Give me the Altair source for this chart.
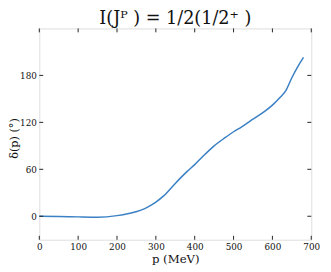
import altair as alt
import pandas as pd

p_mev = [0, 50, 100, 150, 200, 230, 260, 280, 300, 320, 350, 380, 400, 420, 450,
         480, 500, 520, 550, 580, 600, 620, 635, 650, 665, 680]
delta_deg = [0, -0.2, -0.8, -1.2, 0.8, 3.5, 7.5, 12, 18, 26, 42, 57, 66, 76, 90,
             101, 108, 114, 124, 134, 142, 152, 161, 177, 191, 203]
x_ticks = [0, 100, 200, 300, 400, 500, 600, 700]
y_ticks = [0, 60, 120, 180]

W, H = 278, 216
FONT = "DejaVu Serif"

df = pd.DataFrame({"p": p_mev, "d": delta_deg})
xt = pd.DataFrame({"v": x_ticks})
yt = pd.DataFrame({"v": y_ticks})

xs = alt.Scale(domain=[0, 700], nice=False)
ys = alt.Scale(domain=[-30, 240], nice=False)

x_axis = alt.Axis(values=x_ticks, ticks=False, domain=False, grid=False,
                  labelFlush=False, labelOverlap=False,
                  labelFont=FONT, labelFontSize=9, labelColor="#111",
                  labelPadding=3, titleFont=FONT, titleFontSize=12,
                  titleFontWeight="normal", titleColor="#111",
                  titleY=14, titleBaseline="top")
y_axis = alt.Axis(values=y_ticks, ticks=False, domain=False, grid=False,
                  labelOverlap=False,
                  labelFont=FONT, labelFontSize=9, labelColor="#111",
                  labelPadding=3, titleFont=FONT, titleFontSize=11.5,
                  titleFontWeight="normal", titleColor="#111",
                  titleX=-20, titleY=H / 2 + 4, titleBaseline="bottom",
                  titleAngle=270)
XT = "p (MeV)"
YT = "δ(p) (°)"

line = alt.Chart(df).mark_line(color="#3a80c4", strokeWidth=1.5,
                               interpolate="monotone").encode(
    x=alt.X("p:Q", scale=xs, title=XT, axis=x_axis),
    y=alt.Y("d:Q", scale=ys, title=YT, axis=y_axis),
)

tick_style = dict(color="#222", strokeWidth=1)
bottom = alt.Chart(xt).mark_rule(**tick_style).encode(
    x=alt.X("v:Q", scale=xs, title=XT, axis=x_axis), y=alt.value(H - 4), y2=alt.value(H))
top = alt.Chart(xt).mark_rule(**tick_style).encode(
    x=alt.X("v:Q", scale=xs, title=XT, axis=x_axis), y=alt.value(0), y2=alt.value(4))
left = alt.Chart(yt).mark_rule(**tick_style).encode(
    y=alt.Y("v:Q", scale=ys, title=YT, axis=y_axis), x=alt.value(0), x2=alt.value(4))
right = alt.Chart(yt).mark_rule(**tick_style).encode(
    y=alt.Y("v:Q", scale=ys, title=YT, axis=y_axis), x=alt.value(W - 4), x2=alt.value(W))

chart = alt.layer(line, bottom, top, left, right).properties(
    width=W, height=H,
    title=alt.TitleParams("I(Jᴾ ) = 1/2(1/2⁺ )", font=FONT, fontSize=18,
                          fontWeight="normal", color="#111", offset=0),
    autosize=alt.AutoSizeParams(type="none"),
    padding={"left": 32, "top": 18, "right": 12, "bottom": 26},
).configure_view(stroke="#222", strokeWidth=1.2).configure(background="white")

chart.save("out.html", embed_options={"renderer": "svg", "actions": False})
